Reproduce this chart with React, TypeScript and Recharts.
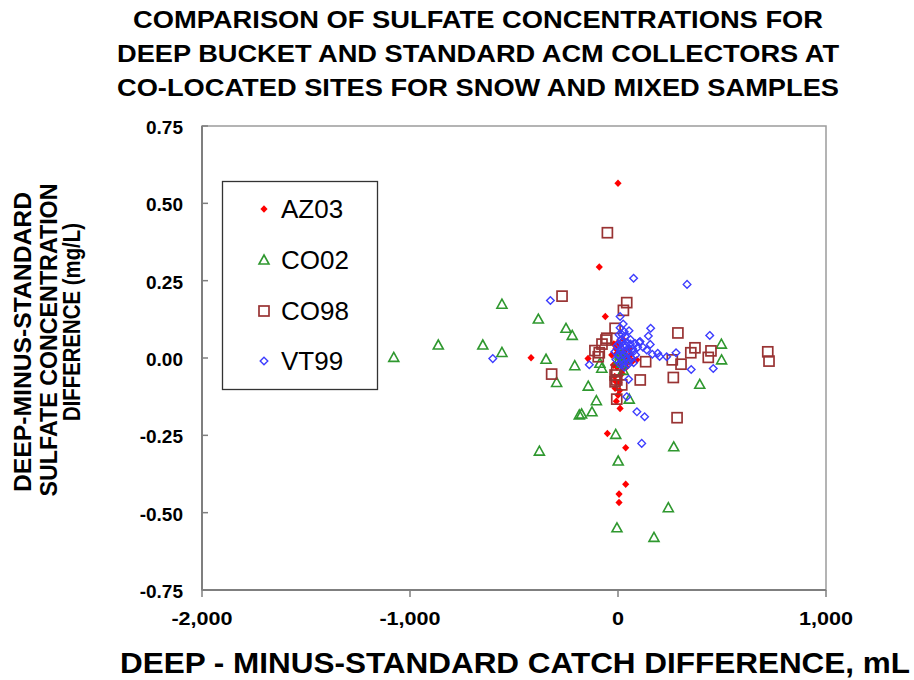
import React from 'react';
import { ScatterChart, Scatter, XAxis, YAxis, ReferenceArea } from 'recharts';

// Title / axis text
const TITLE_LINES = [
  'COMPARISON OF SULFATE CONCENTRATIONS FOR',
  'DEEP BUCKET AND STANDARD ACM COLLECTORS AT',
  'CO-LOCATED SITES FOR SNOW AND MIXED SAMPLES',
];
const Y_LABEL_LINES = ['DEEP-MINUS-STANDARD', 'SULFATE CONCENTRATION', 'DIFFERENCE (mg/L)'];
const X_LABEL = 'DEEP - MINUS-STANDARD CATCH DIFFERENCE, mL';

const X_TICKS = [-2000, -1000, 0, 1000];
const Y_TICKS = [-0.75, -0.5, -0.25, 0, 0.25, 0.5, 0.75];

// [catch difference mL, concentration difference mg/L]
const AZ03 = [
  [0, 0.565], [-90, 0.294], [-61, 0.134], [-418, 0.001], [-144, -0.002],
  [10, -0.163], [-51, -0.244], [37, -0.29], [37, -0.408], [5, -0.44],
  [5, -0.467], [-14, -0.098], [10, -0.006], [50, 0.001], [90, -0.006],
  [-16, -0.06], [-22, -0.023], [18, 0.015], [-5, -0.03], [20, -0.05],
  [30, 0.02], [-10, 0.03], [0, -0.12], [5, -0.08], [-8, -0.14],
  [15, -0.02], [45, -0.015], [60, 0.01], [25, -0.035], [0, 0.05],
  [-30, 0.01], [-12, -0.075], [8, -0.105], [70, -0.01], [35, 0.005],
  [12, 0.04], [25, 0.06], [40, -0.03], [55, 0.03], [-20, 0.045], [-5, 0.015],
];

const CO02 = [
  [-1078, 0.002], [-864, 0.042], [-650, 0.042], [-558, 0.174], [-558, 0.018],
  [-346, -0.004], [-383, 0.126], [-250, 0.096], [-220, 0.073], [-208, -0.025],
  [-295, -0.079], [-186, -0.184], [-143, -0.091], [-104, -0.138], [-175, -0.181],
  [-125, -0.174], [-11, -0.247], [-378, -0.301], [268, -0.287], [393, -0.085],
  [498, -0.006], [497, 0.045], [-78, -0.033], [-87, -0.017], [54, -0.133],
  [1, -0.333], [242, -0.484], [-5, -0.549], [173, -0.58], [18, -0.017], [5, -0.005],
  [10, 0.01], [25, -0.04], [35, 0.0],
];

const CO98 = [
  [-51, 0.405], [-269, 0.2], [42, 0.179], [26, 0.154], [-14, 0.096],
  [288, 0.081], [-319, -0.052], [107, -0.071], [266, -0.063], [284, -0.193],
  [434, 0.002], [447, 0.023], [370, 0.033], [350, 0.017], [303, -0.02],
  [261, -0.006], [133, -0.012], [-111, 0.024], [-90, 0.017], [-58, 0.058],
  [-77, 0.045], [-95, 0.004], [-14, -0.055], [-14, -0.077], [18, -0.087],
  [-6, -0.133], [720, 0.02], [726, -0.01], [-54, 0.064], [-6, -0.039], [-6, -0.071],
];

const VT99 = [
  [75, 0.258], [332, 0.238], [-325, 0.186], [10, 0.134], [10, 0.098],
  [53, 0.088], [157, 0.096], [441, 0.073], [146, 0.071], [-602, -0.002],
  [-138, -0.022], [114, -0.276], [91, -0.174], [128, -0.19], [352, -0.037],
  [458, -0.034], [279, 0.017], [234, 0.004], [191, 0.015], [165, 0.012],
  [138, 0.026], [155, 0.044], [120, 0.035], [102, 0.051], [83, 0.047],
  [74, 0.02], [42, -0.125], [51, -0.069], [106, 0.053], [200, 0.005],
  [15, 0.06], [25, 0.04], [35, 0.02], [45, 0.05], [55, 0.03],
  [65, 0.0], [20, -0.01], [30, -0.03], [40, 0.0], [60, 0.06],
  [10, 0.02], [5, 0.075], [50, -0.02], [70, 0.03], [85, 0.01],
  [25, 0.11], [-5, 0.04], [0, 0.01], [-10, -0.005], [35, 0.07],
  [15, 0.03], [20, 0.05], [30, 0.01], [40, 0.04], [10, -0.02],
  [25, -0.02], [45, 0.015], [55, -0.01], [5, 0.045], [-15, 0.02],
  [30, 0.085], [20, 0.075], [60, 0.045], [75, -0.015], [95, 0.035],
];

const toPoints = (rows: number[][]) => rows.map(([x, y]) => ({ x, y }));

const RED = '#ff0000';
const GREEN = '#2f982f';
const BROWN = '#993333';
const BLUE = '#3d3dff';
const AXIS = '#7f7f7f';
const FONT = 'Arial, "Liberation Sans", sans-serif';

const RedDiamond = ({ cx, cy }: any) => (
  <path d={`M${cx},${cy - 3.8}L${cx + 3.6},${cy}L${cx},${cy + 3.8}L${cx - 3.6},${cy}Z`} fill={RED} />
);
const GreenTriangle = ({ cx, cy }: any) => (
  <path d={`M${cx},${cy - 5}L${cx + 5},${cy + 4}L${cx - 5},${cy + 4}Z`} fill="none" stroke={GREEN} strokeWidth={1.6} />
);
const BrownSquare = ({ cx, cy }: any) => (
  <rect x={cx - 5} y={cy - 5} width={10} height={10} fill="none" stroke={BROWN} strokeWidth={1.7} />
);
const BlueDiamond = ({ cx, cy }: any) => (
  <path d={`M${cx},${cy - 3.8}L${cx + 3.8},${cy}L${cx},${cy + 3.8}L${cx - 3.8},${cy}Z`} fill="none" stroke={BLUE} strokeWidth={1.4} />
);

const YTick = ({ x, y, payload }: any) => (
  <g>
    <line x1={x} y1={y} x2={x + 6} y2={y} stroke={AXIS} strokeWidth={1.5} />
    <text x={x - 19} y={y + 8} textAnchor="end" fontFamily={FONT} fontWeight="bold" fontSize={19} fill="#000">
      {Number(payload.value).toFixed(2)}
    </text>
  </g>
);

const XTick = ({ x, y, payload }: any) => (
  <g>
    <line x1={x} y1={y} x2={x} y2={y + 7} stroke={AXIS} strokeWidth={1.5} />
    <text
      transform={`translate(${x},${y + 35}) scale(1.2,1)`}
      textAnchor="middle"
      fontFamily={FONT}
      fontWeight="bold"
      fontSize={18}
      fill="#000"
    >
      {Number(payload.value).toLocaleString('en-US')}
    </text>
  </g>
);

const LEGEND = [
  { name: 'AZ03', Shape: RedDiamond },
  { name: 'CO02', Shape: GreenTriangle },
  { name: 'CO98', Shape: BrownSquare },
  { name: 'VT99', Shape: BlueDiamond },
];

export default function App() {
  return (
    <div style={{ position: 'absolute', left: 0, top: 0, width: 914, height: 680, background: '#fff' }}>
      <ScatterChart width={914} height={680} margin={{ top: 126, right: 88, bottom: 30, left: 142 }}>
        <XAxis
          type="number"
          dataKey="x"
          domain={[-2000, 1000]}
          ticks={X_TICKS}
          height={60}
          tickLine={false}
          tickSize={0}
          tickMargin={0}
          axisLine={{ stroke: AXIS, strokeWidth: 2 }}
          tick={<XTick />}
          interval={0}
        />
        <YAxis
          type="number"
          dataKey="y"
          domain={[-0.75, 0.75]}
          ticks={Y_TICKS}
          width={60}
          tickLine={false}
          tickSize={0}
          tickMargin={0}
          axisLine={{ stroke: AXIS, strokeWidth: 2 }}
          tick={<YTick />}
          interval={0}
        />
        <ReferenceArea x1={-2000} x2={1000} y1={-0.75} y2={0.75} fill="none" fillOpacity={0} stroke="#9c9c9c" strokeWidth={1.5} />
        <Scatter name="AZ03" data={toPoints(AZ03)} shape={<RedDiamond />} isAnimationActive={false} />
        <Scatter name="CO02" data={toPoints(CO02)} shape={<GreenTriangle />} isAnimationActive={false} />
        <Scatter name="CO98" data={toPoints(CO98)} shape={<BrownSquare />} isAnimationActive={false} />
        <Scatter name="VT99" data={toPoints(VT99)} shape={<BlueDiamond />} isAnimationActive={false} />
      </ScatterChart>
      <svg
        width={914}
        height={680}
        style={{ position: 'absolute', left: 0, top: 0, pointerEvents: 'none' }}
      >
        {TITLE_LINES.map((t, i) => (
          <text
            key={t}
            x={478}
            y={[28, 62, 96][i]}
            textAnchor="middle"
            fontFamily={FONT}
            fontWeight="bold"
            fontSize={24}
            textLength={[690, 722, 722][i]}
            lengthAdjust="spacingAndGlyphs"
            fill="#000"
          >
            {t}
          </text>
        ))}
        {Y_LABEL_LINES.map((t, i) => {
          const bx = [31, 57, 80][i];
          const cy = [342, 340, 322][i];
          return (
            <text
              key={t}
              transform={`translate(${bx},${cy}) rotate(-90)`}
              textAnchor="middle"
              fontFamily={FONT}
              fontWeight="bold"
              fontSize={23}
              textLength={[300, 313, 198][i]}
              lengthAdjust="spacingAndGlyphs"
              fill="#000"
            >
              {t}
            </text>
          );
        })}
        <text
          x={515}
          y={673}
          textAnchor="middle"
          fontFamily={FONT}
          fontWeight="bold"
          fontSize={30}
          textLength={790}
          lengthAdjust="spacingAndGlyphs"
          fill="#000"
        >
          {X_LABEL}
        </text>
        <rect x={222.5} y={181.5} width={155} height={208} fill="#fff" stroke="#333" strokeWidth={1.3} />
        {LEGEND.map(({ name, Shape }, i) => {
          const cy = [209, 260, 311, 361][i];
          return (
            <g key={name}>
              <Shape cx={264} cy={cy} />
              <text x={281} y={cy + 9} fontFamily={FONT} fontSize={26} fill="#000">
                {name}
              </text>
            </g>
          );
        })}
      </svg>
    </div>
  );
}
